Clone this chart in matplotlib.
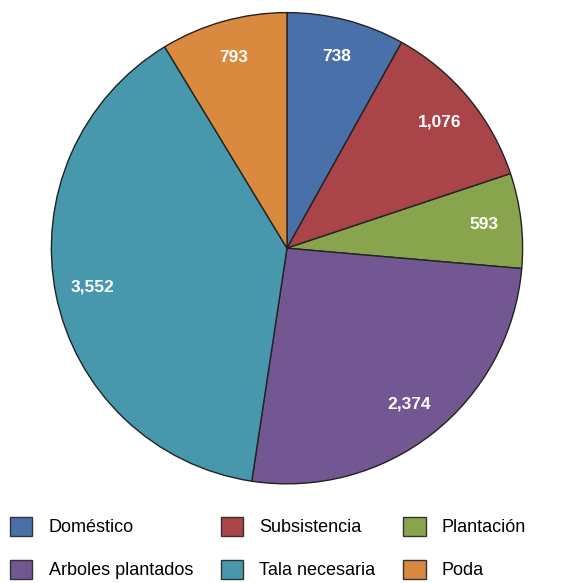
import matplotlib.pyplot as plt
from matplotlib.patches import Patch

categorias = ["Doméstico", "Subsistencia", "Plantación", "Arboles plantados", "Tala necesaria", "Poda"]
valores = [738, 1076, 593, 2374, 3552, 793]
colores = ["#4a70a9", "#a94548", "#88a54e", "#725792", "#4898ad", "#da8a3e"]

plt.rcParams['font.family'] = ['Liberation Sans', 'DejaVu Sans']

fig = plt.figure(figsize=(5.70, 5.83), dpi=100)
ax = fig.add_axes([0.086, 0.166, 0.835, 0.8165])

wedges, textos = ax.pie(valores, colors=colores, startangle=90, counterclock=False,
                        radius=1.0, labels=["{:,}".format(v) for v in valores],
                        labeldistance=0.84,
                        wedgeprops=dict(edgecolor="#222222", linewidth=1.0))
for t in textos:
    t.set_color("white")
    t.set_fontweight("bold")
    t.set_fontsize(12.5)
    t.set_ha("center")
    t.set_va("center")
ax.set_xlim(-1.01, 1.01)
ax.set_ylim(-1.01, 1.01)
ax.set_aspect("equal")

# legend filled column by column: 3 columns x 2 rows
orden = [0, 3, 1, 4, 2, 5]
handles = [Patch(facecolor=colores[i], edgecolor="#333333", linewidth=1.0) for i in orden]
etiquetas = [categorias[i] for i in orden]
fig.legend(handles, etiquetas, ncol=3, loc="lower left", bbox_to_anchor=(0.012, 0.0),
           frameon=False, fontsize=13, handlelength=1.22, handleheight=1.22,
           handletextpad=0.9, columnspacing=1.55, labelspacing=1.3,
           borderaxespad=0.0, borderpad=0.2)

fig.savefig("out.png", dpi=100)
